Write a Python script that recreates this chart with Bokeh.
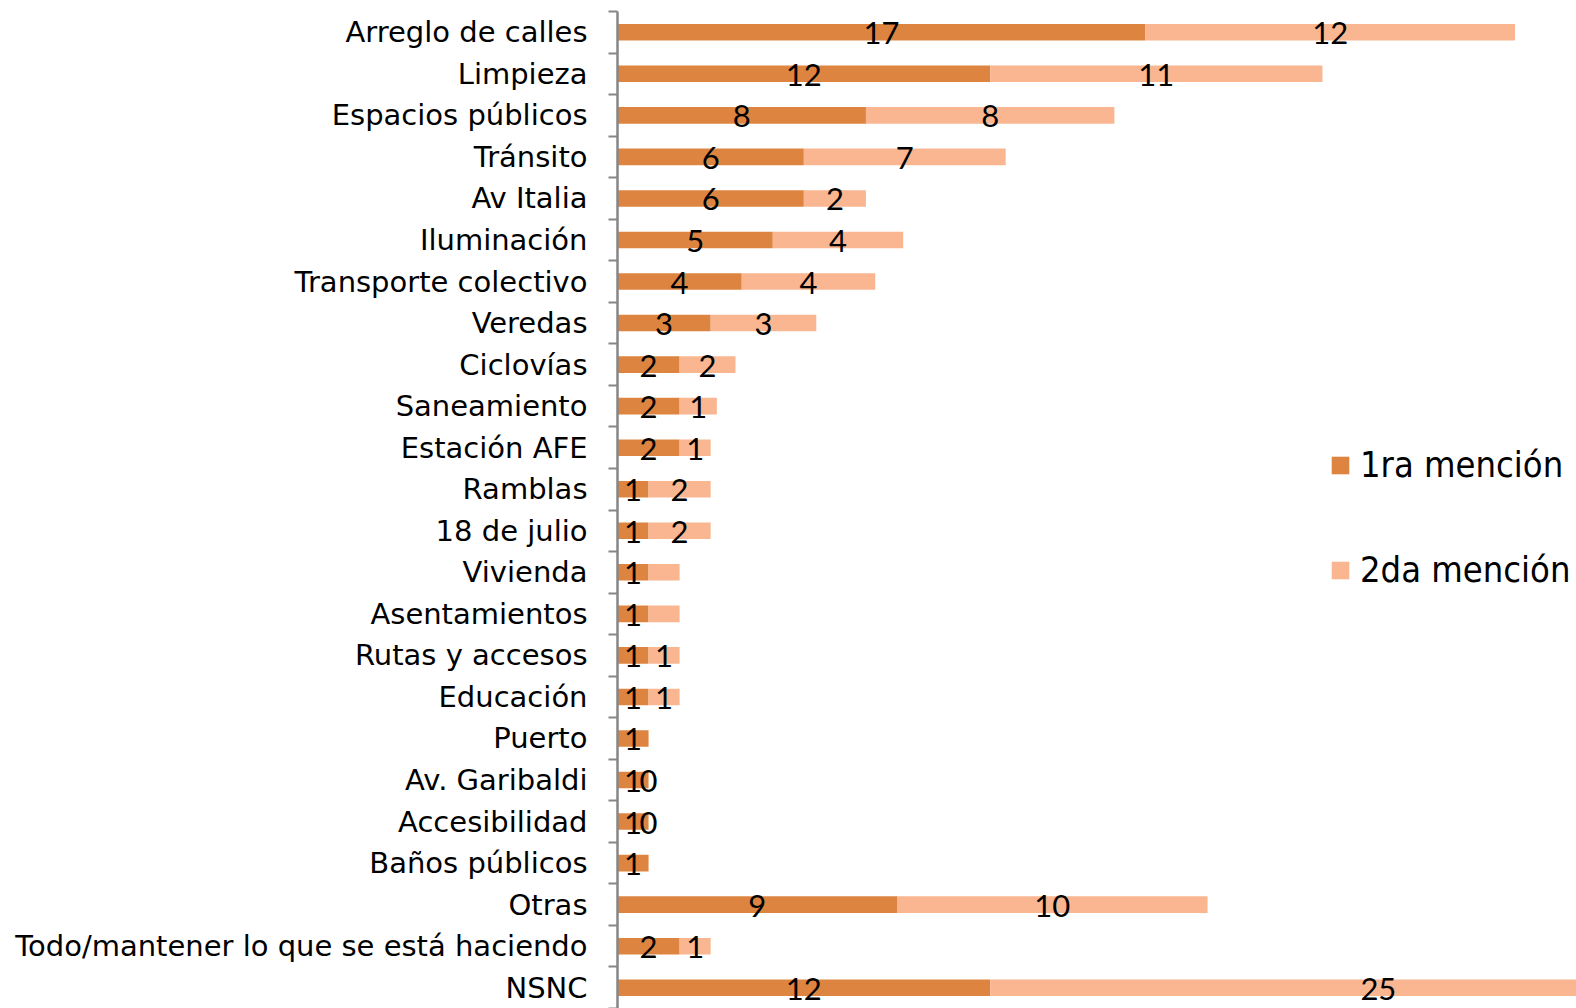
from bokeh.plotting import figure
from bokeh.models import Range1d, FixedTicker, Legend, LegendItem, ColumnDataSource
from bokeh.core.properties import value
from bokeh.embed import file_html
from bokeh.resources import INLINE

categories = ["Arreglo de calles", "Limpieza", "Espacios públicos", "Tránsito", "Av Italia",
              "Iluminación", "Transporte colectivo", "Veredas", "Ciclovías", "Saneamiento",
              "Estación AFE", "Ramblas", "18 de julio", "Vivienda", "Asentamientos",
              "Rutas y accesos", "Educación", "Puerto", "Av. Garibaldi", "Accesibilidad",
              "Baños públicos", "Otras", "Todo/mantener lo que se está haciendo", "NSNC"]
primera = [17, 12, 8, 6, 6, 5, 4, 3, 2, 2, 2, 1, 1, 1, 1, 1, 1, 1, 1, 1, 1, 9, 2, 12]
segunda = [11.9, 10.7, 8.0, 6.5, 2.0, 4.2, 4.3, 3.4, 1.8, 1.2, 1.0, 2.0, 2.0, 1.0, 1.0,
           1.0, 1.0, 0, 0, 0, 0, 10.0, 1.0, 25]
label1 = ["17", "12", "8", "6", "6", "5", "4", "3", "2", "2", "2", "1", "1", "1", "1",
          "1", "1", "1", "1", "1", "1", "9", "2", "12"]
label2 = ["12", "11", "8", "7", "2", "4", "4", "3", "2", "1", "1", "2", "2", "", "",
          "1", "1", "", "0", "0", "", "10", "1", "25"]

DARK = "#DD8440"
LIGHT = "#F9B691"
GRAY = "#868686"
CAT_FONT = "DejaVu Sans"
LEG_FONT = "DejaVu Sans Condensed"

n = len(categories)
ypos = [n - i - 0.5 for i in range(n)]
total = [a + b for a, b in zip(primera, segunda)]
src = ColumnDataSource(dict(
    y=ypos, cat=categories, primera=primera, segunda=segunda, total=total,
    x1=[a / 2 for a in primera], x2=[a + b / 2 for a, b in zip(primera, segunda)],
    label1=label1, label2=label2))

p = figure(width=1576, height=1008, output_backend="svg", toolbar_location=None,
           x_range=Range1d(0, 30.88), y_range=Range1d(0, n), x_axis_location=None,
           min_border_left=617, min_border_right=0, min_border_top=11, min_border_bottom=0)
p.grid.visible = False
p.outline_line_color = None
p.background_fill_color = "white"

r1 = p.hbar(y="y", left=0, right="primera", height=0.4, source=src,
            fill_color=DARK, line_color=None)
r2 = p.hbar(y="y", left="primera", right="total", height=0.4, source=src,
            fill_color=LIGHT, line_color=None)

for col, xcol in (("label1", "x1"), ("label2", "x2")):
    p.text(x=xcol, y="y", text=col, source=src, text_align="center",
           text_baseline="middle", y_offset=1, text_font=value("Lato"),
           text_font_size="31px", text_color="black")

ax = p.yaxis[0]
ax.ticker = FixedTicker(ticks=ypos, minor_ticks=list(range(n + 1)))
ax.major_label_overrides = {y: c for y, c in zip(ypos, categories)}
ax.axis_line_color = GRAY
ax.axis_line_width = 2.5
ax.major_tick_out = 0
ax.major_tick_in = 0
ax.minor_tick_out = 9
ax.minor_tick_in = 0
ax.minor_tick_line_color = GRAY
ax.minor_tick_line_width = 2
ax.major_label_standoff = 21
ax.major_label_text_font = CAT_FONT
ax.major_label_text_font_size = "29px"
ax.major_label_text_color = "black"

legend = Legend(items=[LegendItem(label="1ra mención", renderers=[r1]),
                       LegendItem(label="2da mención", renderers=[r2])],
                location=(712, 418), padding=0, margin=0, spacing=64,
                glyph_width=22, glyph_height=22, label_standoff=9,
                label_text_font=LEG_FONT, label_text_font_size="36px",
                label_text_color="black", border_line_color=None,
                background_fill_alpha=0)
p.add_layout(legend)

open("out.html", "w").write(file_html(p, INLINE))
